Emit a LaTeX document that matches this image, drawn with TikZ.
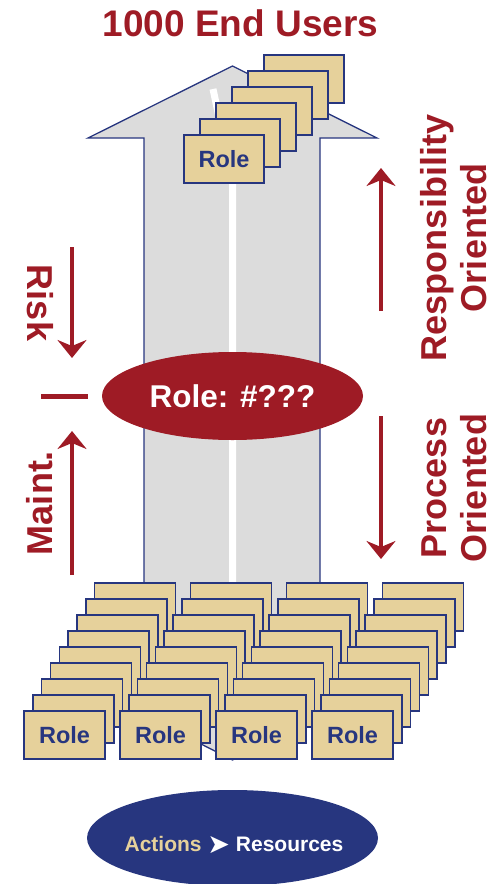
\documentclass[tikz,border=0pt]{standalone}
\usepackage{fontspec}
\setmainfont{Liberation Sans}
\newfontfamily\symfont{DejaVu Sans}
\usetikzlibrary{shapes.geometric,arrows.meta}
\definecolor{crimson}{HTML}{9E1B25}
\definecolor{navy}{HTML}{27367F}
\definecolor{tan}{HTML}{E6D19B}
\definecolor{shaft}{HTML}{DCDCDC}
\tikzset{
  rolebox/.style={draw=navy, fill=tan, line width=1.6pt, minimum width=80pt,
    minimum height=48pt, inner sep=0pt, text=navy,
    font=\fontsize{23.5}{23.5}\selectfont\bfseries},
  sidelabel/.style={text=crimson, align=center, inner sep=0pt,
    font=\fontsize{36}{40}\selectfont\bfseries},
  redarrow/.style={draw=crimson, line width=4.5pt,
    -{Stealth[length=18pt,width=29pt,inset=6pt]}},
  oval/.style={ellipse, inner sep=0pt},
}
\begin{document}
\begin{tikzpicture}[x=1pt,y=-1pt]
\useasboundingbox (0,0) rectangle (503,884);

% big upward arrow with a pointed tail
\draw[navy, line width=1.3pt, fill=shaft]
  (232.5,66) -- (377,138) -- (320,138) -- (320,715) -- (232.5,760)
  -- (144,715) -- (144,138) -- (88,138) -- cycle;
% white centre stripe
\draw[white, line width=7pt] (213,89) -- (232.5,180) -- (232.5,745);

% title
\node[text=crimson, font=\fontsize{37}{37}\selectfont\bfseries, inner sep=0pt]
  (title) at (240.5,23) {1000 End Users};

% stacked roles at the top
\foreach \i in {5,4,...,1}
  \node[rolebox] (t\i) at (224+16*\i,159-16*\i) {};
\node[rolebox] (t0) at (224,159) {Role};

% grid of roles at the bottom
\foreach \r in {8,7,...,1}
  \foreach \c in {0,1,2,3}
    \node[rolebox, minimum width=81pt] (g\c\r) at (64.5+96*\c+8.83*\r,735-16*\r) {};
\foreach \c in {0,1,2,3}
  \node[rolebox, minimum width=81pt] (g\c0) at (64.5+96*\c,735) {Role};

% central role
\node[oval, fill=crimson, minimum width=261pt, minimum height=88pt,
  text=white, font=\fontsize{31.5}{31.5}\selectfont\bfseries] (mid) at (232.5,396) {Role: \#???};

% left side: risk and maintenance
\coordinate (riskA) at (72,247);
\coordinate (riskB) at (72,358);
\coordinate (mntA) at (72,575);
\coordinate (mntB) at (72,431);
\coordinate (dashA) at (41,396);
\coordinate (dashB) at (88,396);
\draw[redarrow] (riskA) -- (riskB);
\draw[redarrow] (mntA) -- (mntB);
\draw[crimson, line width=5pt] (dashA) -- (dashB);
\node[sidelabel, rotate=-90] (risk) at (40,303) {Risk};
\node[sidelabel, rotate=90] (maint) at (40,503) {Maint.};

% right side: orientation
\coordinate (respA) at (381,311);
\coordinate (respB) at (381,168);
\coordinate (procA) at (381,416);
\coordinate (procB) at (381,559);
\draw[redarrow] (respA) -- (respB);
\draw[redarrow] (procA) -- (procB);
\node[sidelabel, rotate=90] (resp) at (454,238) {Responsibility\\Oriented};
\node[sidelabel, rotate=90] (proc) at (454,488) {Process\\Oriented};

% base: actions on resources
\node[oval, fill=navy, minimum width=291pt, minimum height=96pt] (base) at (232.5,838) {};
\node[inner sep=0pt, font=\fontsize{21}{21}\selectfont\bfseries] (baselabel) at (234,845)
  {\textcolor{tan}{Actions} \textcolor{white}{\raisebox{-1.5pt}{\fontsize{27}{21}\symfont\mdseries ➤} Resources}};
\end{tikzpicture}
\end{document}
